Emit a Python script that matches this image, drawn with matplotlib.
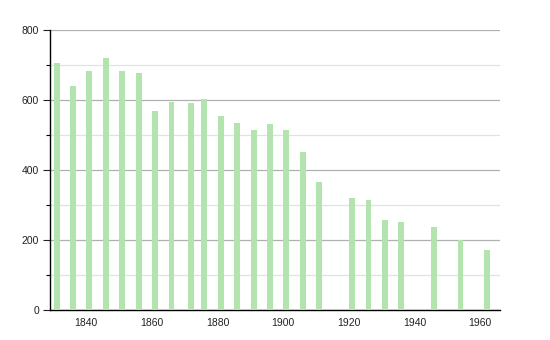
import matplotlib
matplotlib.use("Agg")
import matplotlib.pyplot as plt
from matplotlib.ticker import MultipleLocator

years = [1831, 1836, 1841, 1846, 1851, 1856, 1861, 1866, 1872, 1876, 1881, 1886,
         1891, 1896, 1901, 1906, 1911, 1921, 1926, 1931, 1936, 1946, 1954, 1962]
population = [705, 641, 682, 719, 683, 677, 568, 595, 590, 602, 553, 533,
              514, 532, 514, 451, 365, 319, 313, 257, 251, 236, 199, 171]
x_ticks = [1840, 1860, 1880, 1900, 1920, 1940, 1960]

plt.rcParams["font.family"] = ["Liberation Sans", "DejaVu Sans"]

fig = plt.figure(figsize=(5.5, 3.4), dpi=100)
ax = fig.add_axes([0.0909, 0.088, 0.818, 0.824])

ax.bar(years, population, width=1.8, color="#b3e4b0", zorder=3)

ax.set_xlim(1829, 1966)
ax.set_ylim(0, 800)
ax.set_xticks(x_ticks)
ax.yaxis.set_major_locator(MultipleLocator(200))
ax.yaxis.set_minor_locator(MultipleLocator(100))

ax.grid(axis="y", which="major", color="#b0b0b0", linewidth=0.9, zorder=0)
ax.grid(axis="y", which="minor", color="#e2e2e2", linewidth=0.9, zorder=0)

for side in ("top", "right"):
    ax.spines[side].set_visible(False)
ax.spines["left"].set_linewidth(1.0)
ax.spines["bottom"].set_linewidth(1.0)

ax.tick_params(axis="x", length=0, pad=6, labelsize=7.5, colors="#222222")
ax.tick_params(axis="y", which="major", length=5, width=0.8, pad=3, labelsize=7.5, colors="#222222")
ax.tick_params(axis="y", which="minor", length=3, width=0.8)

fig.savefig("out.png", dpi=100)
